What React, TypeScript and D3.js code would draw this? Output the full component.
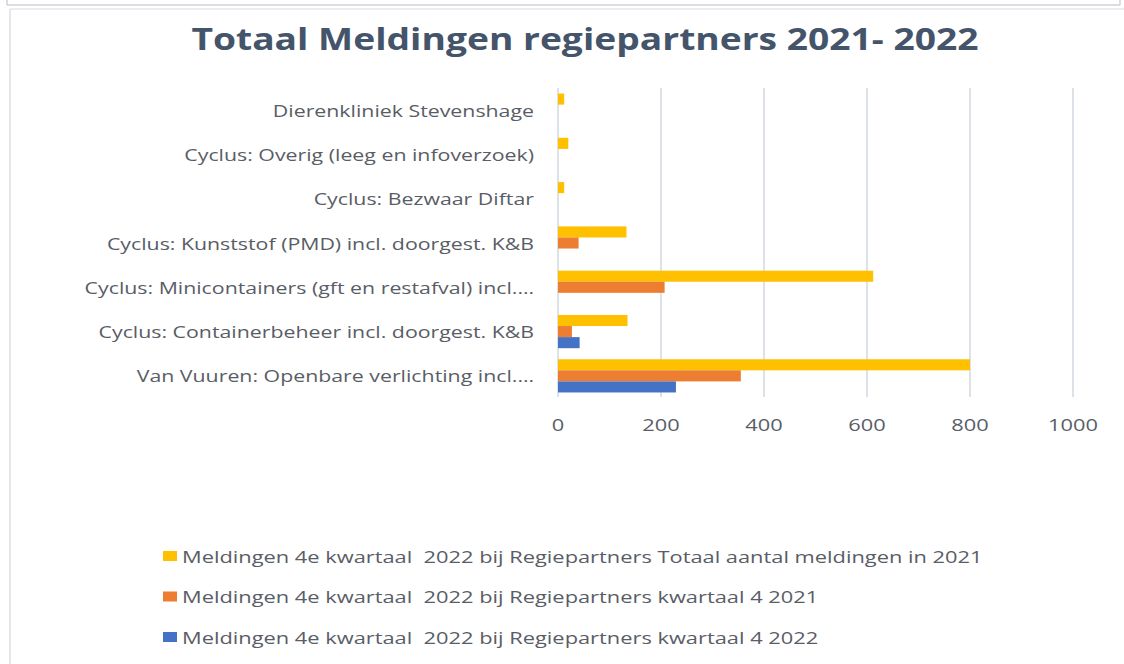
import React from "react";
import * as d3 from "d3";

const categories = [
  "Dierenkliniek Stevenshage",
  "Cyclus: Overig (leeg en infoverzoek)",
  "Cyclus: Bezwaar Diftar",
  "Cyclus: Kunststof (PMD) incl. doorgest. K&B",
  "Cyclus: Minicontainers (gft en restafval) incl.…",
  "Cyclus: Containerbeheer incl. doorgest. K&B",
  "Van Vuuren: Openbare verlichting incl.…",
];
const totaal2021 = [12, 20, 12, 133, 612, 135, 800];
const kwartaal4_2021 = [0, 0, 0, 40, 207, 27, 355];
const kwartaal4_2022 = [0, 0, 0, 0, 0, 42, 229];
const seriesNames = [
  "Meldingen 4e kwartaal  2022 bij Regiepartners Totaal aantal meldingen in 2021",
  "Meldingen 4e kwartaal  2022 bij Regiepartners kwartaal 4 2021",
  "Meldingen 4e kwartaal  2022 bij Regiepartners kwartaal 4 2022",
];
const seriesColors = ["#FFC000", "#ED7D31", "#4472C4"];
const xTicks = [0, 200, 400, 600, 800, 1000];
const title = "Totaal Meldingen regiepartners 2021- 2022";

const W = 1124;
const H = 664;
const SX = 1.285; // horizontal text stretch
const SXC = 1.255;
const SXT = 1.22;
const FONT = "'Open Sans', 'Noto Sans', sans-serif";
const TEXT = "#595d66";

export default function App() {
  const series = [totaal2021, kwartaal4_2021, kwartaal4_2022];
  const x = d3.scaleLinear().domain([0, 1000]).range([558, 1073]);
  const y = d3.scaleBand<string>().domain(categories).range([88, 398]).paddingInner(0.25).paddingOuter(0.125);
  const sub = d3.scaleBand<number>().domain([0, 1, 2]).range([0, y.bandwidth()]);

  const stretched = (tx: number, ty: number, content: string, anchor: string, size: number, sx: number = SX) => (
    <g transform={`translate(${tx},${ty}) scale(${sx},1)`}>
      <text
        x={0}
        y={0}
        textAnchor={anchor}
        dominantBaseline="central"
        fontFamily={FONT}
        fontSize={size}
        fill={TEXT}
        style={{ whiteSpace: "pre" }}
      >
        {content}
      </text>
    </g>
  );

  return (
    <svg width={W} height={H} style={{ position: "absolute", left: 0, top: 0, background: "#fff" }}>
      {/* frame */}
      <rect x={0} y={0} width={W} height={H} fill="#fff" />
      <line x1={7} x2={1120} y1={5} y2={5} stroke="#cfd2d6" strokeWidth={1.5} />
      <line x1={7} x2={7} y1={0} y2={5} stroke="#cfd2d6" strokeWidth={1.5} />
      <line x1={1120} x2={1120} y1={0} y2={5} stroke="#cfd2d6" strokeWidth={1.5} />
      <line x1={10} x2={W} y1={9} y2={9} stroke="#e4e7ec" strokeWidth={1.5} />
      <line x1={10} x2={10} y1={9} y2={H} stroke="#e4e7ec" strokeWidth={2} />

      {/* title */}
      <g transform={`translate(585,38) scale(${SXT},1)`}>
        <text textAnchor="middle" dominantBaseline="central" fontFamily={FONT} fontWeight={700} fontSize={30.5} fill="#44546A">
          {title}
        </text>
      </g>

      {/* grid */}
      {xTicks.map((t) => (
        <line key={t} x1={x(t)} x2={x(t)} y1={88} y2={397} stroke="#dde1e8" strokeWidth={2} />
      ))}

      {/* bars */}
      {categories.map((c, i) => (
        <g key={c} transform={`translate(0,${y(c)})`}>
          {series.map((s, k) =>
            s[i] > 0 ? (
              <rect
                key={k}
                x={x(0)}
                y={sub(k)}
                width={x(s[i]) - x(0)}
                height={sub.bandwidth()}
                fill={seriesColors[k]}
              />
            ) : null
          )}
        </g>
      ))}

      {/* category labels */}
      {categories.map((c) =>
        <React.Fragment key={c}>{stretched(534, (y(c) as number) + y.bandwidth() / 2, c, "end", 17, SXC)}</React.Fragment>
      )}

      {/* x tick labels */}
      {xTicks.map((t) => (
        <React.Fragment key={t}>{stretched(x(t), 424, String(t), "middle", 17)}</React.Fragment>
      ))}

      {/* legend */}
      {seriesNames.map((n, k) => {
        const ly = 556 + k * 40.5;
        return (
          <g key={k}>
            <rect x={163} y={ly - 5} width={14} height={10} fill={seriesColors[k]} />
            {stretched(182, ly, n, "start", 17)}
          </g>
        );
      })}
    </svg>
  );
}
